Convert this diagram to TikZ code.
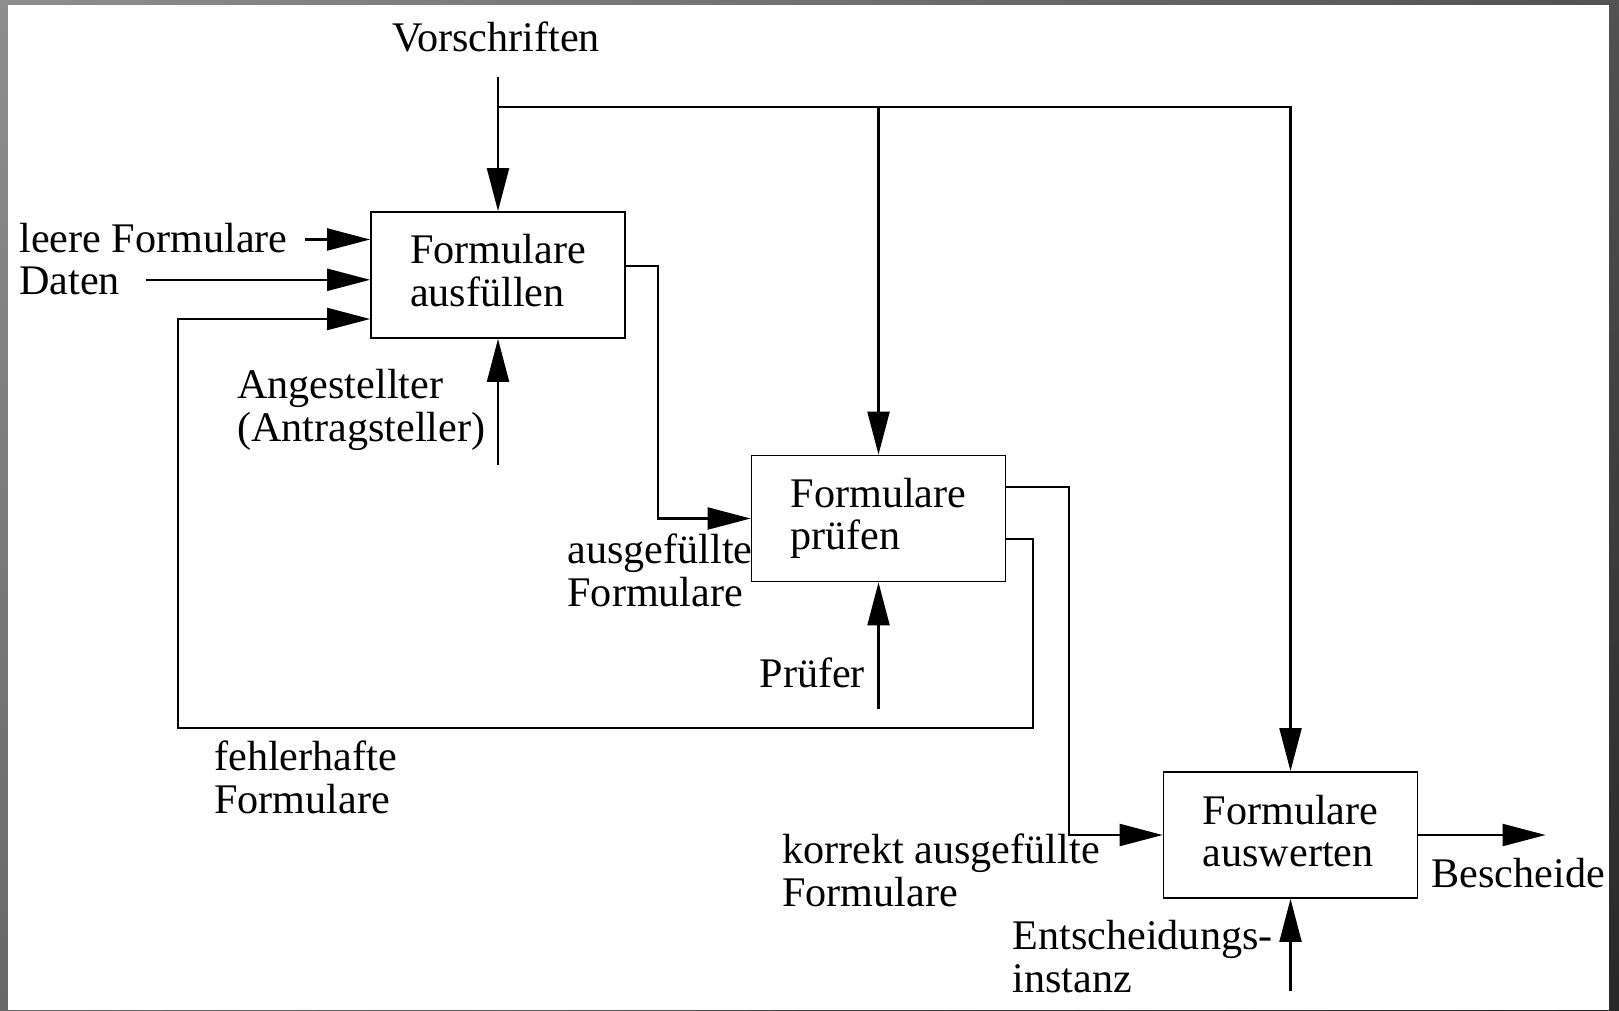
\documentclass[tikz,border=0pt]{standalone}
\usepackage{fontspec}
\setmainfont{Liberation Serif}
\usetikzlibrary{arrows.meta,shadings}
\definecolor{framelight}{RGB}{142,142,142}
\definecolor{framemid}{RGB}{104,104,104}
\definecolor{framedark}{RGB}{82,82,82}
\definecolor{framedeep}{RGB}{40,40,40}
\begin{document}
\begin{tikzpicture}
  [x=0.1mm, y=-0.1mm,
   font=\fontsize{12}{12}\selectfont,
   proc/.style={draw, line width=0.5pt, minimum width=25.4mm, minimum height=12.6mm, align=left, inner sep=0pt},
   flow/.style={line width=0.6pt, -{Triangle[length=4.3mm, width=2.2mm]}},
   lbl/.style={anchor=base west, inner sep=0pt, align=left}]

  % Frame
  \useasboundingbox (0,0) rectangle (1619,1010);
  \shade[upper left=framelight, upper right=framedark, lower left=framemid, lower right=framedeep] (0,0) rectangle (1619,1010);
  \fill[white] (8,5) rectangle (1609,1010);

  % Activities
  \node[proc] (fill) at (498,275) {Formulare\\ausfüllen\vphantom{g}};
  \node[proc] (check) at (878.5,518.5) {Formulare\\prüfen};
  \node[proc] (eval) at (1290.5,835) {Formulare\\auswerten\vphantom{g}};

  % Labels (multi-line ones sit on their last line)
  \node[anchor=base, inner sep=0pt] (vors) at (496,52) {Vorschriften};
  \node[lbl] (leere) at (18.6,253) {leere Formulare};
  \node[lbl] (daten) at (18.6,295) {Daten};
  \node[lbl] (ang) at (236.4,441) {Angestellter\\(Antragsteller)};
  \node[lbl] (ausgef) at (566.8,606) {ausgefüllte\\Formulare};
  \node[lbl] (pruefer) at (758.9,687.6) {Prüfer};
  \node[lbl] (fehler) at (213.7,813) {fehlerhafte\\Formulare};
  \node[lbl] (korrekt) at (781.6,906) {korrekt ausgefüllte\\Formulare};
  \node[lbl] (besch) at (1431,887) {Bescheide};
  \node[lbl] (entsch) at (1011.9,992) {Entscheidungs-\\instanz};

  % Free ends
  \coordinate (vsrc) at (498,77);
  \coordinate (vfork) at (498,107);
  \coordinate (leereS) at (304.6,239.5);
  \coordinate (datenS) at (145.6,279.8);
  \coordinate (angS) at (498,464.6);
  \coordinate (pruefS) at (878.5,709.3);
  \coordinate (entS) at (1290.5,991);
  \coordinate (bescheidE) at (1545.6,835);
  \coordinate (loopR) at (1033,728);
  \coordinate (loopL) at (177.6,728);

  % Controls
  \draw[flow] (vsrc) -- (fill.north);
  \draw[flow] (vfork) -| (eval.north);
  \draw[flow] (vfork -| check.north) -- (check.north);

  % Inputs
  \draw[flow] (leereS) -- (leereS -| fill.west);
  \draw[flow] (datenS) -- (datenS -| fill.west);

  % Mechanisms
  \draw[flow] (angS) -- (fill.south);
  \draw[flow] (pruefS) -- (check.south);
  \draw[flow] (entS) -- (eval.south);

  % Outputs
  \draw[flow] ([yshift=0.9mm]fill.east) -- ++(3.2mm,0) |- (check.west);
  \draw[flow] ([yshift=3.15mm]check.east) -- ++(6.3mm,0) |- (eval.west);
  \draw[flow] ([yshift=-2.05mm]check.east) -| (loopR) -- (loopL) |- ([yshift=-4.4mm]fill.west);
  \draw[flow] (eval.east) -- (bescheidE);
\end{tikzpicture}
\end{document}
